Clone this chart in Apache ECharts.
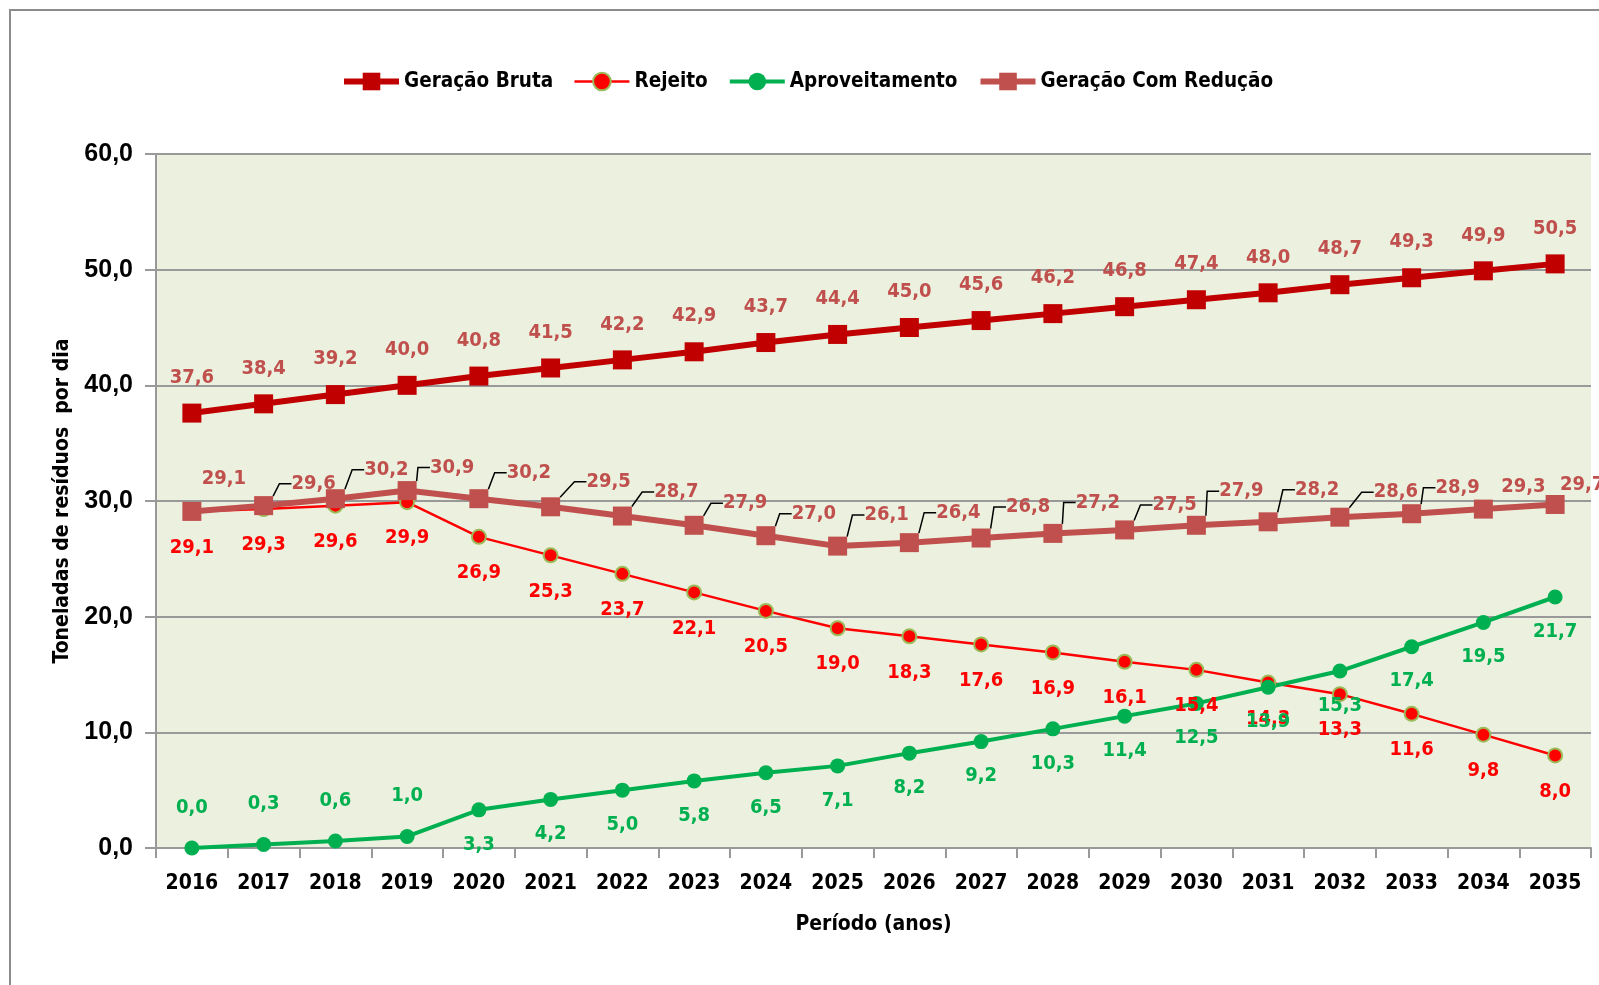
<!DOCTYPE html>
<html>
<head>
<meta charset="utf-8">
<script src="https://cdn.jsdelivr.net/npm/echarts@6/dist/echarts.min.js"></script>
<style>
  html, body { margin: 0; padding: 0; background: #fff; }
  #chart { width: 1599px; height: 985px; }
</style>
</head>
<body>
<div id="chart"></div>
<script>
// dados (toneladas por dia)
const anos = ['2016', '2017', '2018', '2019', '2020', '2021', '2022', '2023', '2024', '2025',
  '2026', '2027', '2028', '2029', '2030', '2031', '2032', '2033', '2034', '2035'];
const geracaoBruta = [37.6, 38.4, 39.2, 40.0, 40.8, 41.5, 42.2, 42.9, 43.7, 44.4,
  45.0, 45.6, 46.2, 46.8, 47.4, 48.0, 48.7, 49.3, 49.9, 50.5];
const rejeito = [29.1, 29.3, 29.6, 29.9, 26.9, 25.3, 23.7, 22.1, 20.5, 19.0,
  18.3, 17.6, 16.9, 16.1, 15.4, 14.3, 13.3, 11.6, 9.8, 8.0];
const aproveitamento = [0.0, 0.3, 0.6, 1.0, 3.3, 4.2, 5.0, 5.8, 6.5, 7.1,
  8.2, 9.2, 10.3, 11.4, 12.5, 13.9, 15.3, 17.4, 19.5, 21.7];
const geracaoComReducao = [29.1, 29.6, 30.2, 30.9, 30.2, 29.5, 28.7, 27.9, 27.0, 26.1,
  26.4, 26.8, 27.2, 27.5, 27.9, 28.2, 28.6, 28.9, 29.3, 29.7];

// deslocamento dos rótulos da série "Geração Com Redução" (em px)
const offsetsReducao = [[32, -33], [50, -22], [51, -29], [45, -23], [50, -26], [58, -25], [54, -24],
  [51, -22], [48, -22], [49, -31], [49, -30], [47, -31], [45, -31], [50, -25], [45, -34], [49, -32],
  [56, -25], [46, -26], [40, -22], [27, -20]];
const semLinha = [0, 18, 19];

const NARROW = "'Liberation Sans Narrow', 'Arial Narrow', 'DejaVu Sans Condensed', sans-serif";
const fmt = v => Number(v).toFixed(1).replace('.', ',');

const myChart = echarts.init(document.getElementById('chart'));
const option = {
  animation: false,
  backgroundColor: '#fff',
  graphic: [
    {
      type: 'rect',
      shape: { x: 10, y: 10, width: 1700, height: 1100 },
      style: { fill: 'none', stroke: '#8c8c8c', lineWidth: 2 },
      silent: true,
    },
  ],
  legend: {
    data: ['Geração Bruta', 'Rejeito', 'Aproveitamento', 'Geração Com Redução'],
    left: 336,
    top: 66,
    itemWidth: 55,
    itemHeight: 22,
    itemGap: 20,
    itemTextGap: 5,
    lineStyle: { width: 'inherit' },
    textStyle: { fontFamily: NARROW, fontSize: 20.5, fontWeight: 'bold', color: '#000' },
  },
  grid: {
    left: 156,
    right: 8,
    top: 154,
    bottom: 137,
    show: true,
    backgroundColor: '#EBF1DE',
    borderWidth: 0,
  },
  xAxis: {
    type: 'category',
    data: anos,
    boundaryGap: true,
    name: 'Período (anos)',
    nameLocation: 'middle',
    nameGap: 66,
    nameTextStyle: { fontFamily: NARROW, fontSize: 21, fontWeight: 'bold', color: '#000' },
    axisLine: { lineStyle: { color: '#999', width: 2 } },
    axisTick: { show: true, length: 10, lineStyle: { color: '#999', width: 2 } },
    axisLabel: { interval: 0, fontFamily: NARROW, fontSize: 21, fontWeight: 'bold', color: '#000', margin: 25 },
  },
  yAxis: {
    type: 'value',
    min: 0,
    max: 60,
    interval: 10,
    name: 'Toneladas de resíduos  por dia',
    nameLocation: 'middle',
    nameGap: 78,
    nameTextStyle: { fontFamily: NARROW, fontSize: 21, fontWeight: 'bold', color: '#000' },
    axisLine: { show: true, lineStyle: { color: '#999', width: 2 } },
    axisTick: { show: true, length: 11, lineStyle: { color: '#999', width: 2 } },
    axisLabel: {
      fontFamily: "'Liberation Sans', Arial, sans-serif",
      fontSize: 25,
      fontWeight: 'bold',
      color: '#000',
      margin: 23,
      formatter: fmt,
    },
    splitLine: { lineStyle: { color: '#999', width: 2 } },
  },
  series: [
    {
      name: 'Geração Bruta',
      type: 'line',
      data: geracaoBruta,
      symbol: 'rect',
      symbolSize: 19,
      lineStyle: { color: '#C00000', width: 6 },
      itemStyle: { color: '#C00000' },
      label: {
        show: true,
        position: 'top',
        distance: 16,
        formatter: p => fmt(p.value),
        fontFamily: NARROW,
        fontSize: 20,
        fontWeight: 'bold',
        color: '#C0504D',
      },
    },
    {
      name: 'Rejeito',
      type: 'line',
      data: rejeito,
      symbol: 'circle',
      symbolSize: 14,
      lineStyle: { color: '#FF0000', width: 2.5 },
      itemStyle: { color: '#FF0000', borderColor: '#9BBB59', borderWidth: 2 },
      label: {
        show: true,
        position: 'bottom',
        distance: 18,
        formatter: p => fmt(p.value),
        fontFamily: NARROW,
        fontSize: 20,
        fontWeight: 'bold',
        color: '#FF0000',
      },
    },
    {
      name: 'Aproveitamento',
      type: 'line',
      data: aproveitamento.map((v, i) => ({
        value: v,
        label: { position: i < 4 ? 'top' : 'bottom', distance: i < 4 ? 23 : 17 },
      })),
      symbol: 'circle',
      symbolSize: 15,
      lineStyle: { color: '#00B050', width: 4 },
      itemStyle: { color: '#00B050' },
      label: {
        show: true,
        formatter: p => fmt(p.value),
        fontFamily: NARROW,
        fontSize: 20,
        fontWeight: 'bold',
        color: '#00B050',
      },
    },
    {
      name: 'Geração Com Redução',
      type: 'line',
      data: geracaoComReducao.map((v, i) => ({
        value: v,
        labelLine: { show: semLinha.indexOf(i) < 0 },
      })),
      symbol: 'rect',
      symbolSize: 19,
      lineStyle: { color: '#C0504D', width: 6 },
      itemStyle: { color: '#C0504D' },
      label: {
        show: true,
        position: 'inside',
        formatter: p => fmt(p.value),
        fontFamily: NARROW,
        fontSize: 20,
        fontWeight: 'bold',
        color: '#C0504D',
      },
      labelLine: {
        show: true,
        length2: 12,
        lineStyle: { color: '#000', width: 1.5 },
      },
      labelLayout: p => {
        const o = offsetsReducao[p.dataIndex];
        return { dx: o[0], dy: o[1] };
      },
    },
  ],
};
option && myChart.setOption(option);
</script>
</body>
</html>
